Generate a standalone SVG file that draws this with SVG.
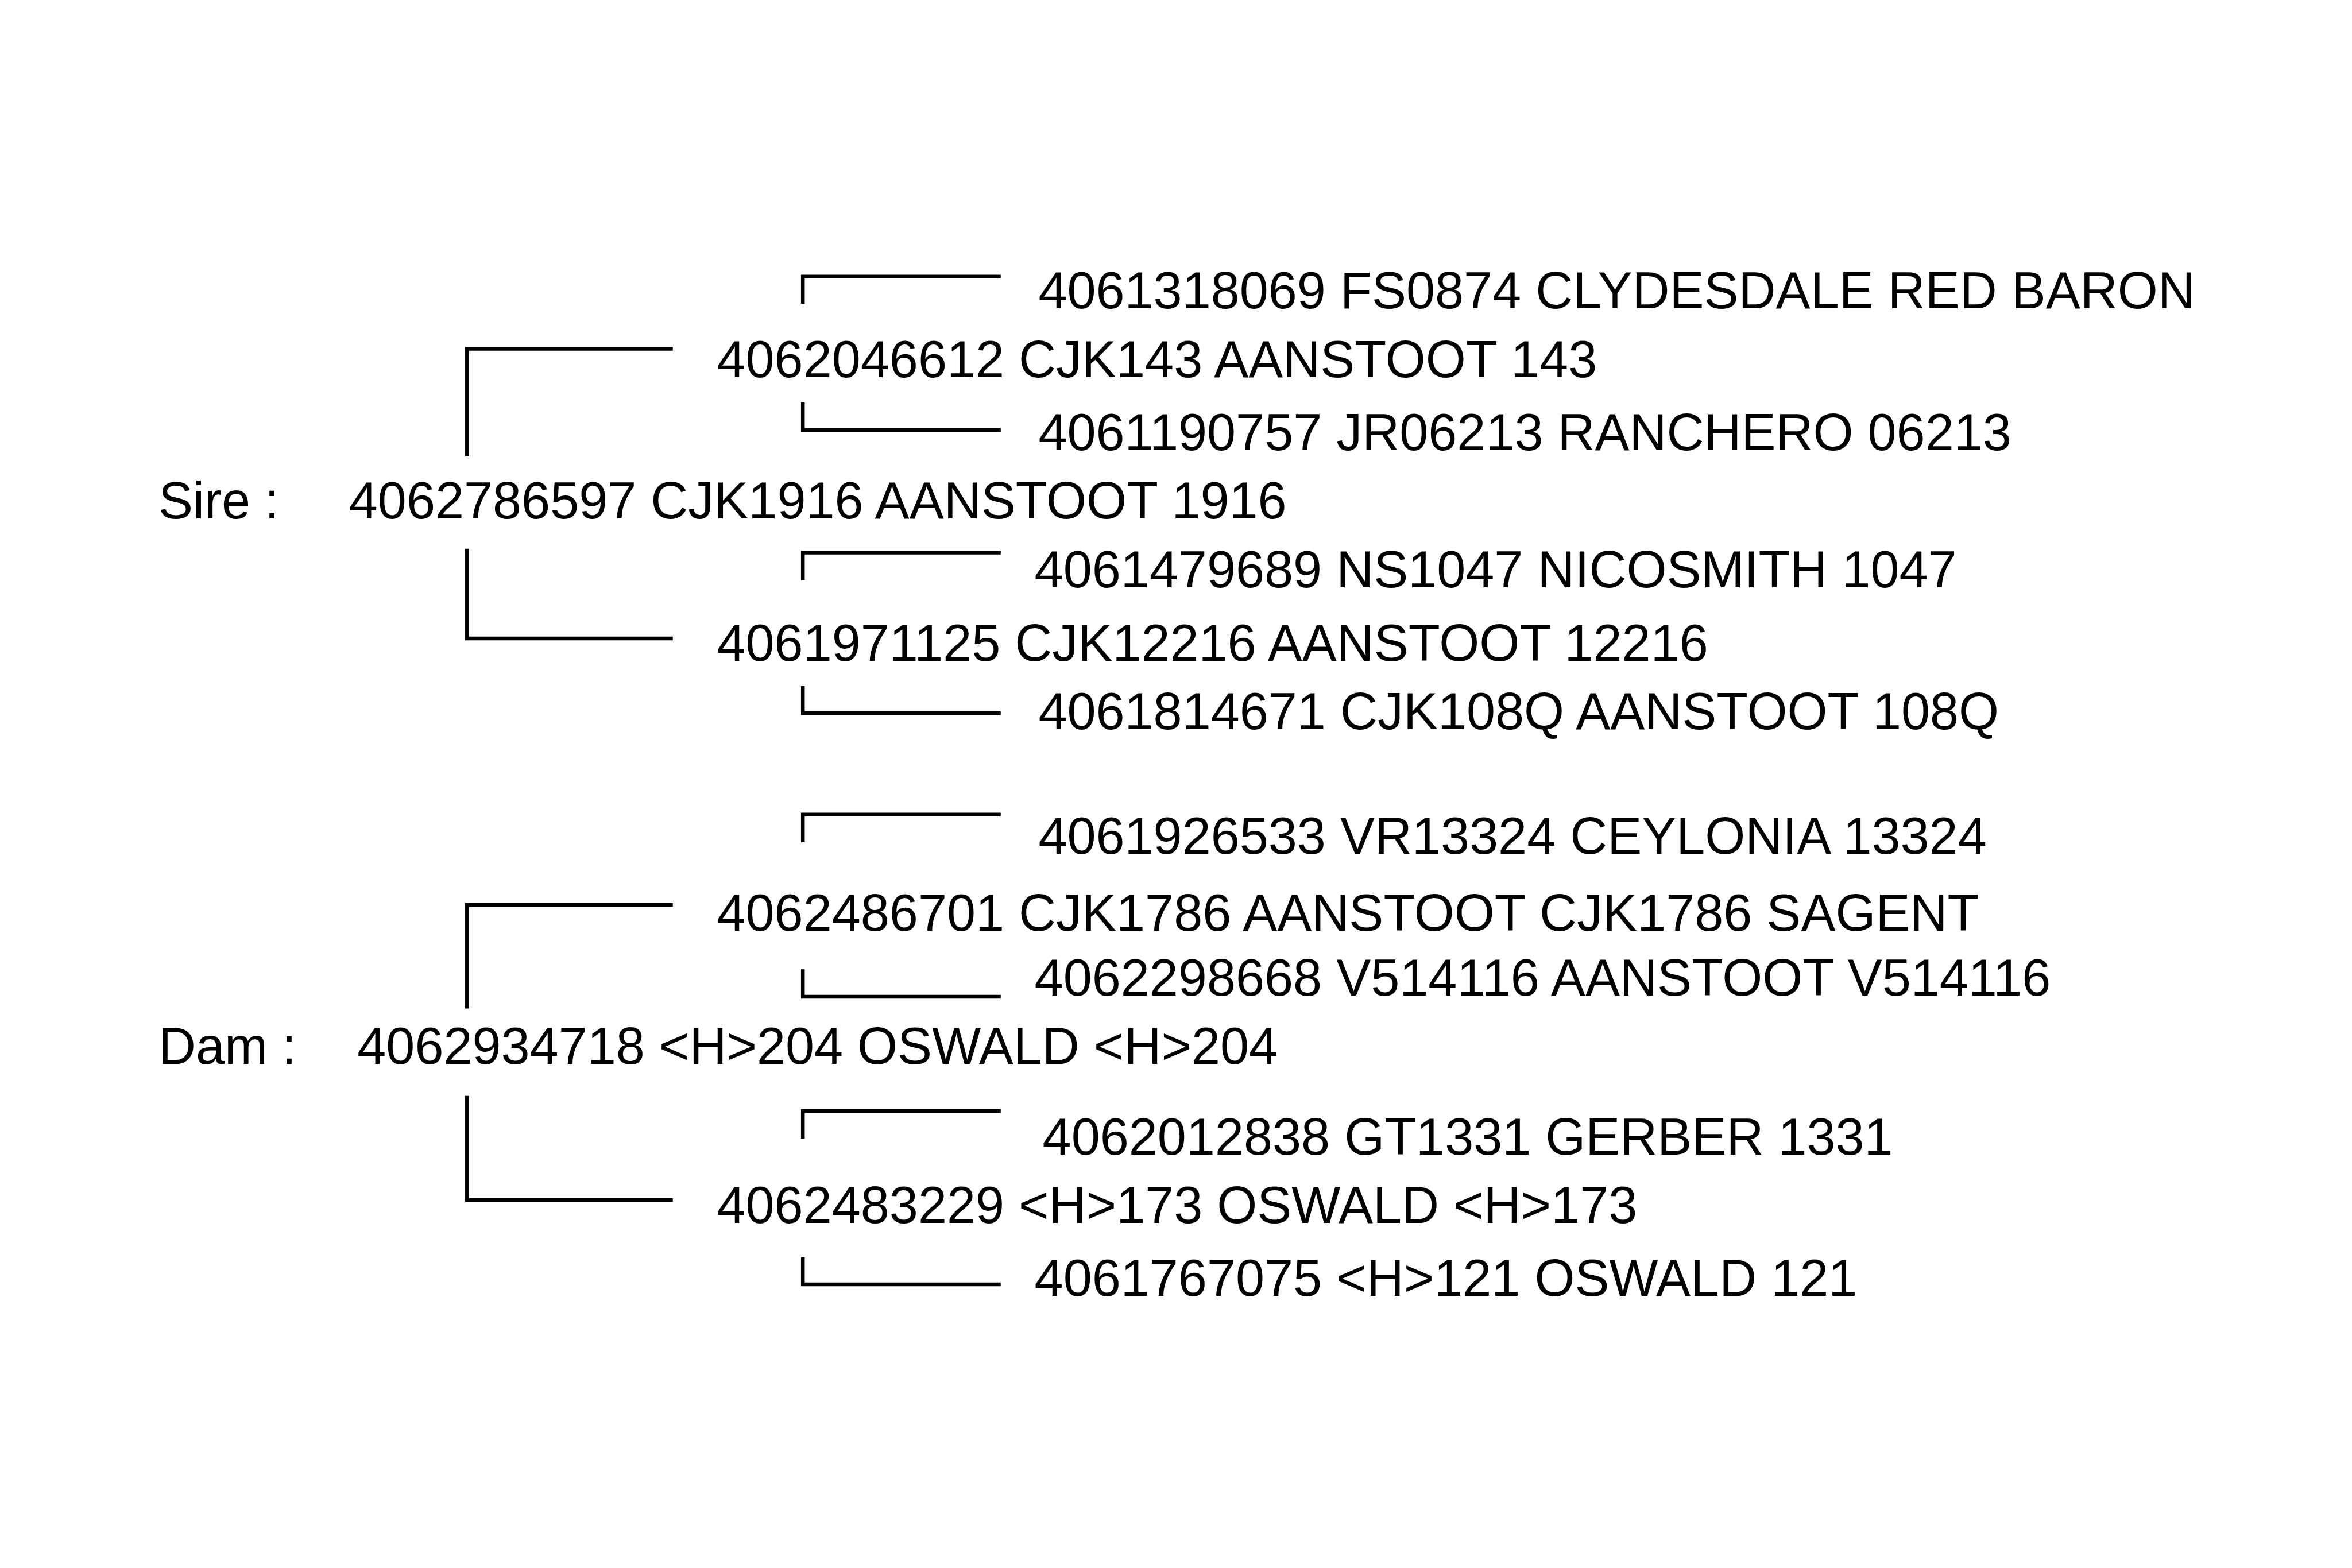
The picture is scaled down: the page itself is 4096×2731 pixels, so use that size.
<svg xmlns="http://www.w3.org/2000/svg" width="4096" height="2731" viewBox="0 0 4096 2731">
<style>
text{font-family:"Liberation Sans",Arial,sans-serif;font-size:90px;fill:#000}
.c path{fill:none;stroke:#000;stroke-width:6.5;stroke-linecap:butt;stroke-linejoin:miter}
</style>
<rect width="4096" height="2731" fill="#fff"/>
<g id="connectors" class="c">
<path d="M813.3 794.3V607.5H1171.7"/>
<path d="M813.3 955.7V1112H1171.7"/>
<path d="M1398.2 529.1V481.7H1742.8"/>
<path d="M1398.2 701.1V748.8H1742.8"/>
<path d="M1398.2 1010.6V962.6H1742.8"/>
<path d="M1398.2 1194.7V1242.3H1742.8"/>
<path d="M1398.2 1467V1418.7H1742.8"/>
<path d="M813.3 1756.6V1576H1171.7"/>
<path d="M1398.2 1688.3V1735.9H1742.8"/>
<path d="M813.3 1908.8V2090H1171.7"/>
<path d="M1398.2 1983V1935.1H1742.8"/>
<path d="M1398.2 2190V2237H1742.8"/>
</g>
<g id="label-sire"><text x="276" y="903.2">Sire :</text></g>
<g id="label-dam"><text x="276" y="1852.8">Dam :</text></g>
<g id="sire"><text x="607.8" y="903.2">4062786597 CJK1916 AANSTOOT 1916</text></g>
<g id="sire-sire"><text x="1248.5" y="656.9">4062046612 CJK143 AANSTOOT 143</text></g>
<g id="sire-sire-sire"><text x="1808.4" y="536.7">4061318069 FS0874 CLYDESDALE RED BARON</text></g>
<g id="sire-sire-dam"><text x="1808.4" y="783.8">4061190757 JR06213 RANCHERO 06213</text></g>
<g id="sire-dam"><text x="1248.5" y="1150.7">4061971125 CJK12216 AANSTOOT 12216</text></g>
<g id="sire-dam-sire"><text x="1801.6" y="1022.7">4061479689 NS1047 NICOSMITH 1047</text></g>
<g id="sire-dam-dam"><text x="1808.4" y="1269.8">4061814671 CJK108Q AANSTOOT 108Q</text></g>
<g id="dam"><text x="622.3" y="1852.8">4062934718 &lt;H&gt;204 OSWALD &lt;H&gt;204</text></g>
<g id="dam-sire"><text x="1248.5" y="1621">4062486701 CJK1786 AANSTOOT CJK1786 SAGENT</text></g>
<g id="dam-sire-sire"><text x="1808.4" y="1487.3">4061926533 VR13324 CEYLONIA 13324</text></g>
<g id="dam-sire-dam"><text x="1801.6" y="1733.6">4062298668 V514116 AANSTOOT V514116</text></g>
<g id="dam-dam"><text x="1248.5" y="2130">4062483229 &lt;H&gt;173 OSWALD &lt;H&gt;173</text></g>
<g id="dam-dam-sire"><text x="1815.6" y="2011.2">4062012838 GT1331 GERBER 1331</text></g>
<g id="dam-dam-dam"><text x="1801.6" y="2257.1">4061767075 &lt;H&gt;121 OSWALD 121</text></g>
</svg>
